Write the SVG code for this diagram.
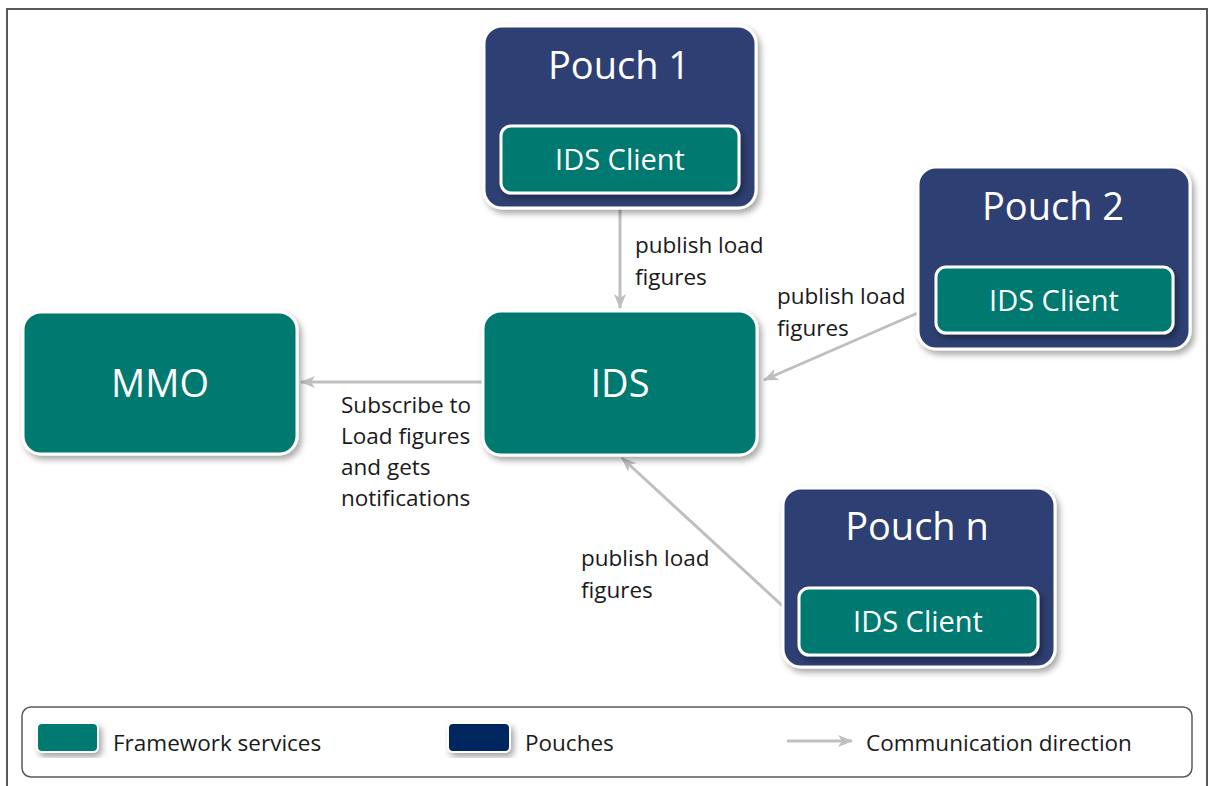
<svg xmlns="http://www.w3.org/2000/svg" width="1208" height="786" viewBox="0 0 1208 786">
  <defs>
    <filter id="shadow" x="-10%" y="-10%" width="125%" height="130%">
      <feDropShadow dx="3" dy="4" stdDeviation="3" flood-color="#000" flood-opacity="0.35"/>
    </filter>
    <marker id="arrow" markerWidth="16" markerHeight="12" refX="14" refY="6" orient="auto" markerUnits="userSpaceOnUse">
      <path d="M0,0 L15,6 L0,12 L4,6 z" fill="#bfbfbf"/>
    </marker>
  </defs>
  <style>
    .pouch { fill: #2f3f73; stroke: #ffffff; stroke-width: 3; filter: url(#shadow); }
    .svc { fill: #00796f; stroke: #ffffff; stroke-width: 3; filter: url(#shadow); }
    .big { font-family: "Open Sans", "Liberation Sans", sans-serif; font-size: 38px; fill: #ffffff; text-anchor: middle; }
    .mid { font-family: "Open Sans", "Liberation Sans", sans-serif; font-size: 29px; fill: #ffffff; text-anchor: middle; }
    .lbl { font-family: "Open Sans", "Liberation Sans", sans-serif; font-size: 22.5px; fill: #1a1a1a; }
    .conn { stroke: #bfbfbf; stroke-width: 3; fill: none; marker-end: url(#arrow); }
  </style>

  <rect width="1208" height="786" fill="#ffffff"/>
  <!-- outer frame -->
  <rect x="7" y="9" width="1200" height="800" fill="none" stroke="#595959" stroke-width="2"/>

  <!-- connectors -->
  <g id="connectors">
    <line class="conn" x1="620" y1="194" x2="620" y2="308"/>
    <line class="conn" x1="936" y1="305" x2="764" y2="380"/>
    <line class="conn" x1="800" y1="622" x2="622" y2="458"/>
    <line class="conn" x1="483" y1="382" x2="301" y2="382"/>
  </g>

  <g id="pouch1">
    <rect class="pouch" x="484" y="26" width="272" height="182" rx="18"/>
    <text class="big" x="619" y="79">Pouch 1</text>
    <g id="pouch1-client">
      <rect class="svc" x="501" y="126" width="238" height="67" rx="10"/>
      <text class="mid" x="620" y="170">IDS Client</text>
    </g>
  </g>

  <g id="pouch2">
    <rect class="pouch" x="918" y="167" width="272" height="182" rx="18"/>
    <text class="big" x="1053" y="220">Pouch 2</text>
    <g id="pouch2-client">
      <rect class="svc" x="936" y="267" width="237" height="66" rx="10"/>
      <text class="mid" x="1054" y="311">IDS Client</text>
    </g>
  </g>

  <g id="pouchn">
    <rect class="pouch" x="783" y="488" width="272" height="179" rx="18"/>
    <text class="big" x="917" y="540">Pouch n</text>
    <g id="pouchn-client">
      <rect class="svc" x="799" y="588" width="239" height="67" rx="10"/>
      <text class="mid" x="918" y="632">IDS Client</text>
    </g>
  </g>

  <g id="ids">
    <rect class="svc" x="483" y="311" width="274" height="144" rx="18"/>
    <text class="big" x="620" y="397">IDS</text>
  </g>

  <g id="mmo">
    <rect class="svc" x="23" y="312" width="274" height="142" rx="18"/>
    <text class="big" x="160" y="397">MMO</text>
  </g>

  <!-- connector labels -->
  <g id="labels">
    <text class="lbl" x="635" y="253">publish load</text>
    <text class="lbl" x="635" y="285">figures</text>
    <text class="lbl" x="777" y="304">publish load</text>
    <text class="lbl" x="777" y="336">figures</text>
    <text class="lbl" x="581" y="566">publish load</text>
    <text class="lbl" x="581" y="598">figures</text>
    <text class="lbl" x="341" y="413">Subscribe to</text>
    <text class="lbl" x="341" y="444">Load figures</text>
    <text class="lbl" x="341" y="475">and gets</text>
    <text class="lbl" x="341" y="506">notifications</text>
  </g>

  <!-- legend -->
  <g id="legend">
    <rect x="22" y="707" width="1170" height="70" rx="9" fill="none" stroke="#595959" stroke-width="1.5"/>
    <rect x="37" y="723" width="61" height="29" rx="5" fill="#00796f" stroke="#ffffff" stroke-width="2" filter="url(#shadow)"/>
    <text class="lbl" x="113" y="751">Framework services</text>
    <rect x="448" y="723" width="62" height="29" rx="5" fill="#00285e" stroke="#ffffff" stroke-width="2" filter="url(#shadow)"/>
    <text class="lbl" x="525" y="751">Pouches</text>
    <line class="conn" x1="787" y1="741" x2="852" y2="741"/>
    <text class="lbl" x="866" y="751">Communication direction</text>
  </g>
</svg>
